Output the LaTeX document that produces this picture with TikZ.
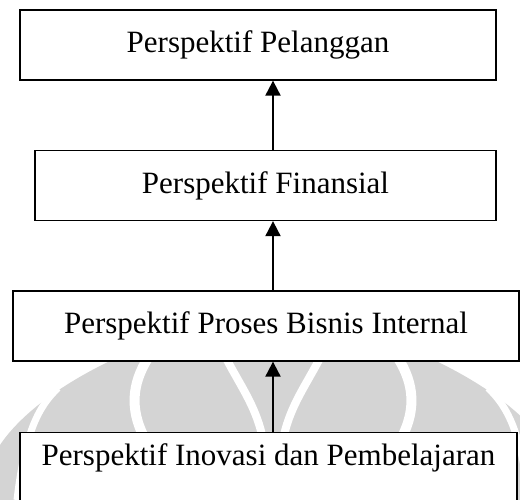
\documentclass[tikz,border=0pt]{standalone}
\usepackage{fontspec}
\setmainfont{Liberation Serif}
\usetikzlibrary{arrows.meta,positioning}

\begin{document}
\begin{tikzpicture}[
    x=1pt, y=-1pt,
    box/.style={rectangle, draw, line width=1.3pt, fill=white, minimum width=#1, minimum height=70pt, inner sep=0pt, align=center, font=\fontsize{31}{37}\selectfont},
    arrow/.style={-{Triangle[length=15pt, width=15pt]}, line width=2pt},
    logo/.style={fill=black!17, draw=none},
    gap/.style={draw=white, line width=#1}
]
    \useasboundingbox (0,0) rectangle (520,500);
    \clip (0,0) rectangle (520,500);

    % faint logo behind the lower boxes
    \fill[logo] (0,500) -- (0,445) .. controls (20,415) and (60,385) .. (110,361) -- (436,361) .. controls (486,385) and (526,415) .. (546,445) -- (546,500) -- cycle;
    \foreach \s in {1,-1} {
      \begin{scope}[shift={(273,0)}, xscale=\s]
        \draw[gap=7pt] (-215,388) .. controls (-233,405) and (-248,430) .. (-256,500);
        \draw[gap=10pt] (-125,358) .. controls (-142,385) and (-142,410) .. (-130,435);
        \draw[gap=8pt] (-47,358) .. controls (-33,385) and (-18,405) .. (-11,435);
      \end{scope}
    }

    % Perspectives, top to bottom
    \node[box=476pt] (pelanggan) at (258,45) {Perspektif Pelanggan};
    \node[box=461pt] (finansial) at (265.5,185.5) {Perspektif Finansial};
    \node[box=506pt] (proses) at (266,326) {Perspektif Proses Bisnis Internal};
    \node[box=497pt, minimum height=80pt, anchor=north] (inovasi) at (268.5,432) {Perspektif Inovasi dan Pembelajaran\\ \mbox{}};

    % Arrows
    \coordinate (axis) at (273,0);
    \draw[arrow] (finansial.north -| axis) -- (pelanggan.south -| axis);
    \draw[arrow] (proses.north -| axis) -- (finansial.south -| axis);
    \draw[arrow] (inovasi.north -| axis) -- (proses.south -| axis);
\end{tikzpicture}
\end{document}
